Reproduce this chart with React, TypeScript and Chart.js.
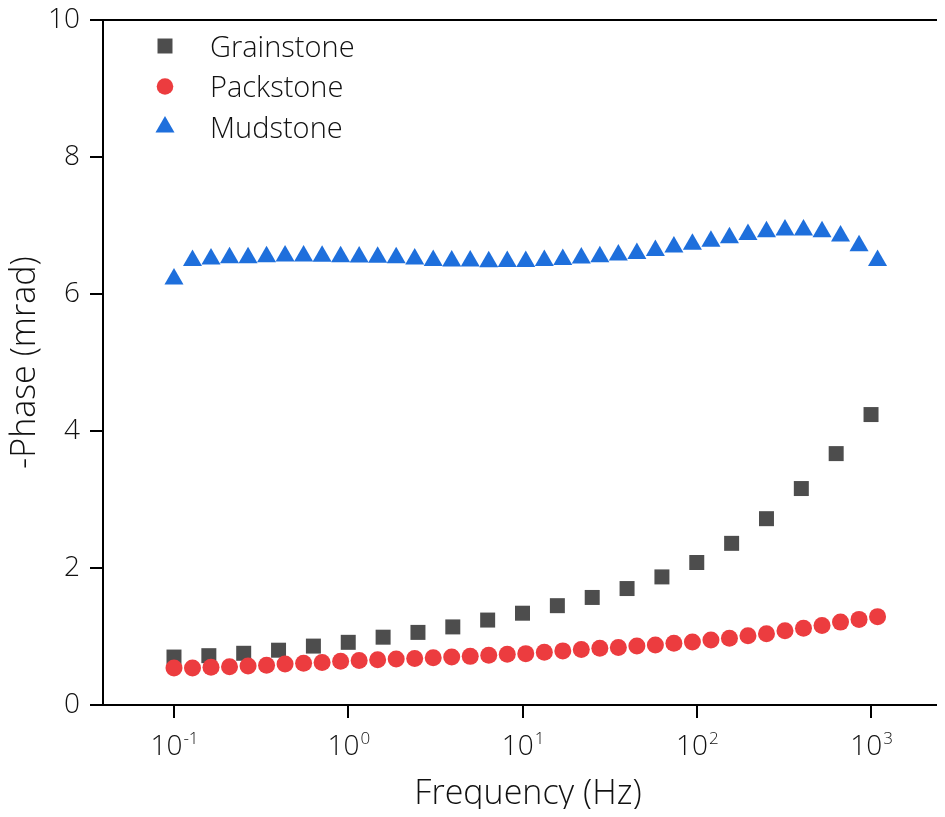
import React, { useEffect, useRef } from 'react';
import { Chart, registerables } from 'chart.js';

Chart.register(...registerables);

// Frequencies (Hz)
const squareFreq = [0.1, 0.1585, 0.2512, 0.3981, 0.631, 1, 1.585, 2.512, 3.981, 6.31, 10, 15.85, 25.12, 39.81, 63.1, 100, 158.5, 251.2, 398.1, 631, 1000];
const denseFreq = [0.1, 0.1277, 0.1631, 0.2083, 0.2661, 0.3398, 0.434, 0.5543, 0.7079, 0.9042, 1.155, 1.475, 1.884, 2.406, 3.073, 3.924, 5.012, 6.401, 8.175, 10.44, 13.34, 17.03, 21.75, 27.78, 35.48, 45.32, 57.88, 73.92, 94.41, 120.6, 154.0, 196.7, 251.2, 320.8, 409.7, 523.3, 668.3, 853.6, 1090];

// -Phase (mrad)
const grainstone = [0.70, 0.72, 0.755, 0.80, 0.86, 0.915, 0.99, 1.06, 1.14, 1.24, 1.34, 1.45, 1.57, 1.70, 1.87, 2.08, 2.36, 2.72, 3.16, 3.67, 4.24];
const packstone = [0.54, 0.54, 0.55, 0.56, 0.57, 0.58, 0.60, 0.61, 0.62, 0.64, 0.65, 0.66, 0.67, 0.68, 0.69, 0.70, 0.71, 0.725, 0.74, 0.75, 0.77, 0.79, 0.81, 0.83, 0.84, 0.86, 0.875, 0.90, 0.92, 0.95, 0.975, 1.01, 1.04, 1.085, 1.12, 1.16, 1.21, 1.25, 1.29];
const mudstone = [6.22, 6.49, 6.51, 6.53, 6.53, 6.545, 6.555, 6.555, 6.55, 6.545, 6.54, 6.535, 6.53, 6.51, 6.49, 6.48, 6.48, 6.47, 6.475, 6.475, 6.49, 6.505, 6.525, 6.545, 6.57, 6.59, 6.635, 6.685, 6.725, 6.77, 6.82, 6.87, 6.91, 6.935, 6.935, 6.91, 6.845, 6.705, 6.49];

const seriesNames = ['Grainstone', 'Packstone', 'Mudstone'];
const xTickValues = [0.1, 1, 10, 100, 1000];
const xTickExponents = ['-1', '0', '1', '2', '3'];

const FONT = '"Open Sans", "Noto Sans", sans-serif';
const W = 300;
const FS = 28;
const LS = 29;
const TS = 34;
const TEXT = '#111';
const CANVAS_W = 964;

function drawMarker(ctx: CanvasRenderingContext2D, style: string, x: number, y: number, r: number, color: string) {
  ctx.fillStyle = color;
  ctx.beginPath();
  if (style === 'rect') {
    const s = Math.SQRT1_2 * r;
    ctx.rect(x - s, y - s, 2 * s, 2 * s);
  } else if (style === 'triangle') {
    let rad = 0;
    ctx.moveTo(x + Math.sin(rad) * r, y - Math.cos(rad) * r);
    rad += (2 * Math.PI) / 3;
    ctx.lineTo(x + Math.sin(rad) * r, y - Math.cos(rad) * r);
    rad += (2 * Math.PI) / 3;
    ctx.lineTo(x + Math.sin(rad) * r, y - Math.cos(rad) * r);
    ctx.closePath();
  } else {
    ctx.arc(x, y, r, 0, Math.PI * 2);
  }
  ctx.fill();
}

const customPlugin = {
  id: 'customDecor',
  afterDraw(chart: any) {
    const ctx: CanvasRenderingContext2D = chart.ctx;
    const xs = chart.scales.x;
    ctx.save();
    ctx.fillStyle = TEXT;
    ctx.textBaseline = 'alphabetic';
    ctx.textAlign = 'left';
    xTickValues.forEach((v, i) => {
      const px = xs.getPixelForValue(v);
      ctx.font = `${W} ${FS}px ${FONT}`;
      const w1 = ctx.measureText('10').width;
      ctx.font = `${W} 17px ${FONT}`;
      const w2 = ctx.measureText(xTickExponents[i]).width;
      const start = px - (w1 + w2) / 2;
      ctx.font = `${W} ${FS}px ${FONT}`;
      ctx.fillText('10', start, xs.top + 50);
      ctx.font = `${W} 17px ${FONT}`;
      ctx.fillText(xTickExponents[i], start + w1 + 1, xs.top + 39);
    });
    // legend
    const rowsY = [46, 86.5, 127];
    chart.data.datasets.forEach((ds: any, i: number) => {
      const cy = rowsY[i];
      drawMarker(ctx, ds.pointStyle, 165, cy, ds.legendRadius, ds.backgroundColor);
      ctx.fillStyle = TEXT;
      ctx.font = `${W} ${LS}px ${FONT}`;
      ctx.fillText(ds.label, 210, cy + 10.5);
    });
    ctx.restore();
  },
};

function zeroPad(scale: any) {
  scale.paddingTop = 0;
  scale.paddingBottom = 0;
  scale.paddingLeft = 0;
  scale.paddingRight = 0;
}

export default function App() {
  const ref = useRef<HTMLCanvasElement | null>(null);
  useEffect(() => {
    if (!ref.current) return;
    const chart = new Chart(ref.current, {
      type: 'scatter',
      data: {
        datasets: [
          {
            label: seriesNames[0],
            data: squareFreq.map((f, i) => ({ x: f, y: grainstone[i] })),
            pointStyle: 'rect',
            pointRadius: 10.6,
            pointHoverRadius: 10.6,
            backgroundColor: '#4d4d4d',
            borderWidth: 0,
            order: 1,
            legendRadius: 10.6,
          } as any,
          {
            label: seriesNames[1],
            data: denseFreq.map((f, i) => ({ x: f, y: packstone[i] })),
            pointStyle: 'circle',
            pointRadius: 8.5,
            pointHoverRadius: 8.5,
            backgroundColor: '#ec3c3f',
            borderWidth: 0,
            order: 0,
            legendRadius: 8.3,
          } as any,
          {
            label: seriesNames[2],
            data: denseFreq.map((f, i) => ({ x: f, y: mudstone[i] })),
            pointStyle: 'triangle',
            pointRadius: 11,
            pointHoverRadius: 11,
            backgroundColor: '#1e6fdc',
            borderWidth: 0,
            order: 2,
            legendRadius: 11,
          } as any,
        ],
      },
      options: {
        animation: false,
        responsive: false,
        devicePixelRatio: 1,
        layout: { padding: { left: 0, top: 20, right: 0, bottom: 0 } },
        plugins: { legend: { display: false }, tooltip: { enabled: false } },
        scales: {
          x: {
            type: 'logarithmic',
            bounds: 'data',
            min: 0.03914,
            max: 2954,
            afterBuildTicks: (scale: any) => {
              scale.ticks = xTickValues.map((v) => ({ value: v }));
            },
            afterFit: (scale: any) => {
              scale.height = 112;
              zeroPad(scale);
            },
            border: { display: true, color: '#000', width: 2 },
            grid: { drawOnChartArea: false, color: '#000', tickColor: '#000', tickLength: 13, lineWidth: 2 },
            ticks: { display: false },
            title: {
              display: true,
              text: 'Frequency (Hz)',
              color: TEXT,
              font: { family: FONT, size: TS, weight: W },
              padding: { top: 0, bottom: 2 },
            },
          },
          y: {
            type: 'linear',
            min: 0,
            max: 10,
            afterFit: (scale: any) => {
              scale.width = 103;
              zeroPad(scale);
            },
            border: { display: true, color: '#000', width: 2 },
            grid: {
              color: (c: any) => (c.tick && (c.tick.value === 0 || c.tick.value === 10) ? '#000' : 'rgba(0,0,0,0)'),
              tickColor: '#000',
              tickLength: 13,
              lineWidth: 2,
            },
            ticks: {
              stepSize: 2,
              color: TEXT,
              padding: 10,
              font: { family: FONT, size: FS, weight: W },
            },
            title: {
              display: true,
              text: '-Phase (mrad)',
              color: TEXT,
              font: { family: FONT, size: TS, weight: W },
              padding: { top: 5, bottom: 0 },
            },
          },
        },
      } as any,
      plugins: [customPlugin],
    });
    return () => chart.destroy();
  }, []);
  return (
    <div style={{ margin: '-8px', width: 945, height: 817, overflow: 'hidden', position: 'relative', background: '#fff' }}>
      <canvas ref={ref} width={CANVAS_W} height={817} style={{ display: 'block', width: CANVAS_W, height: 817 }} />
    </div>
  );
}
